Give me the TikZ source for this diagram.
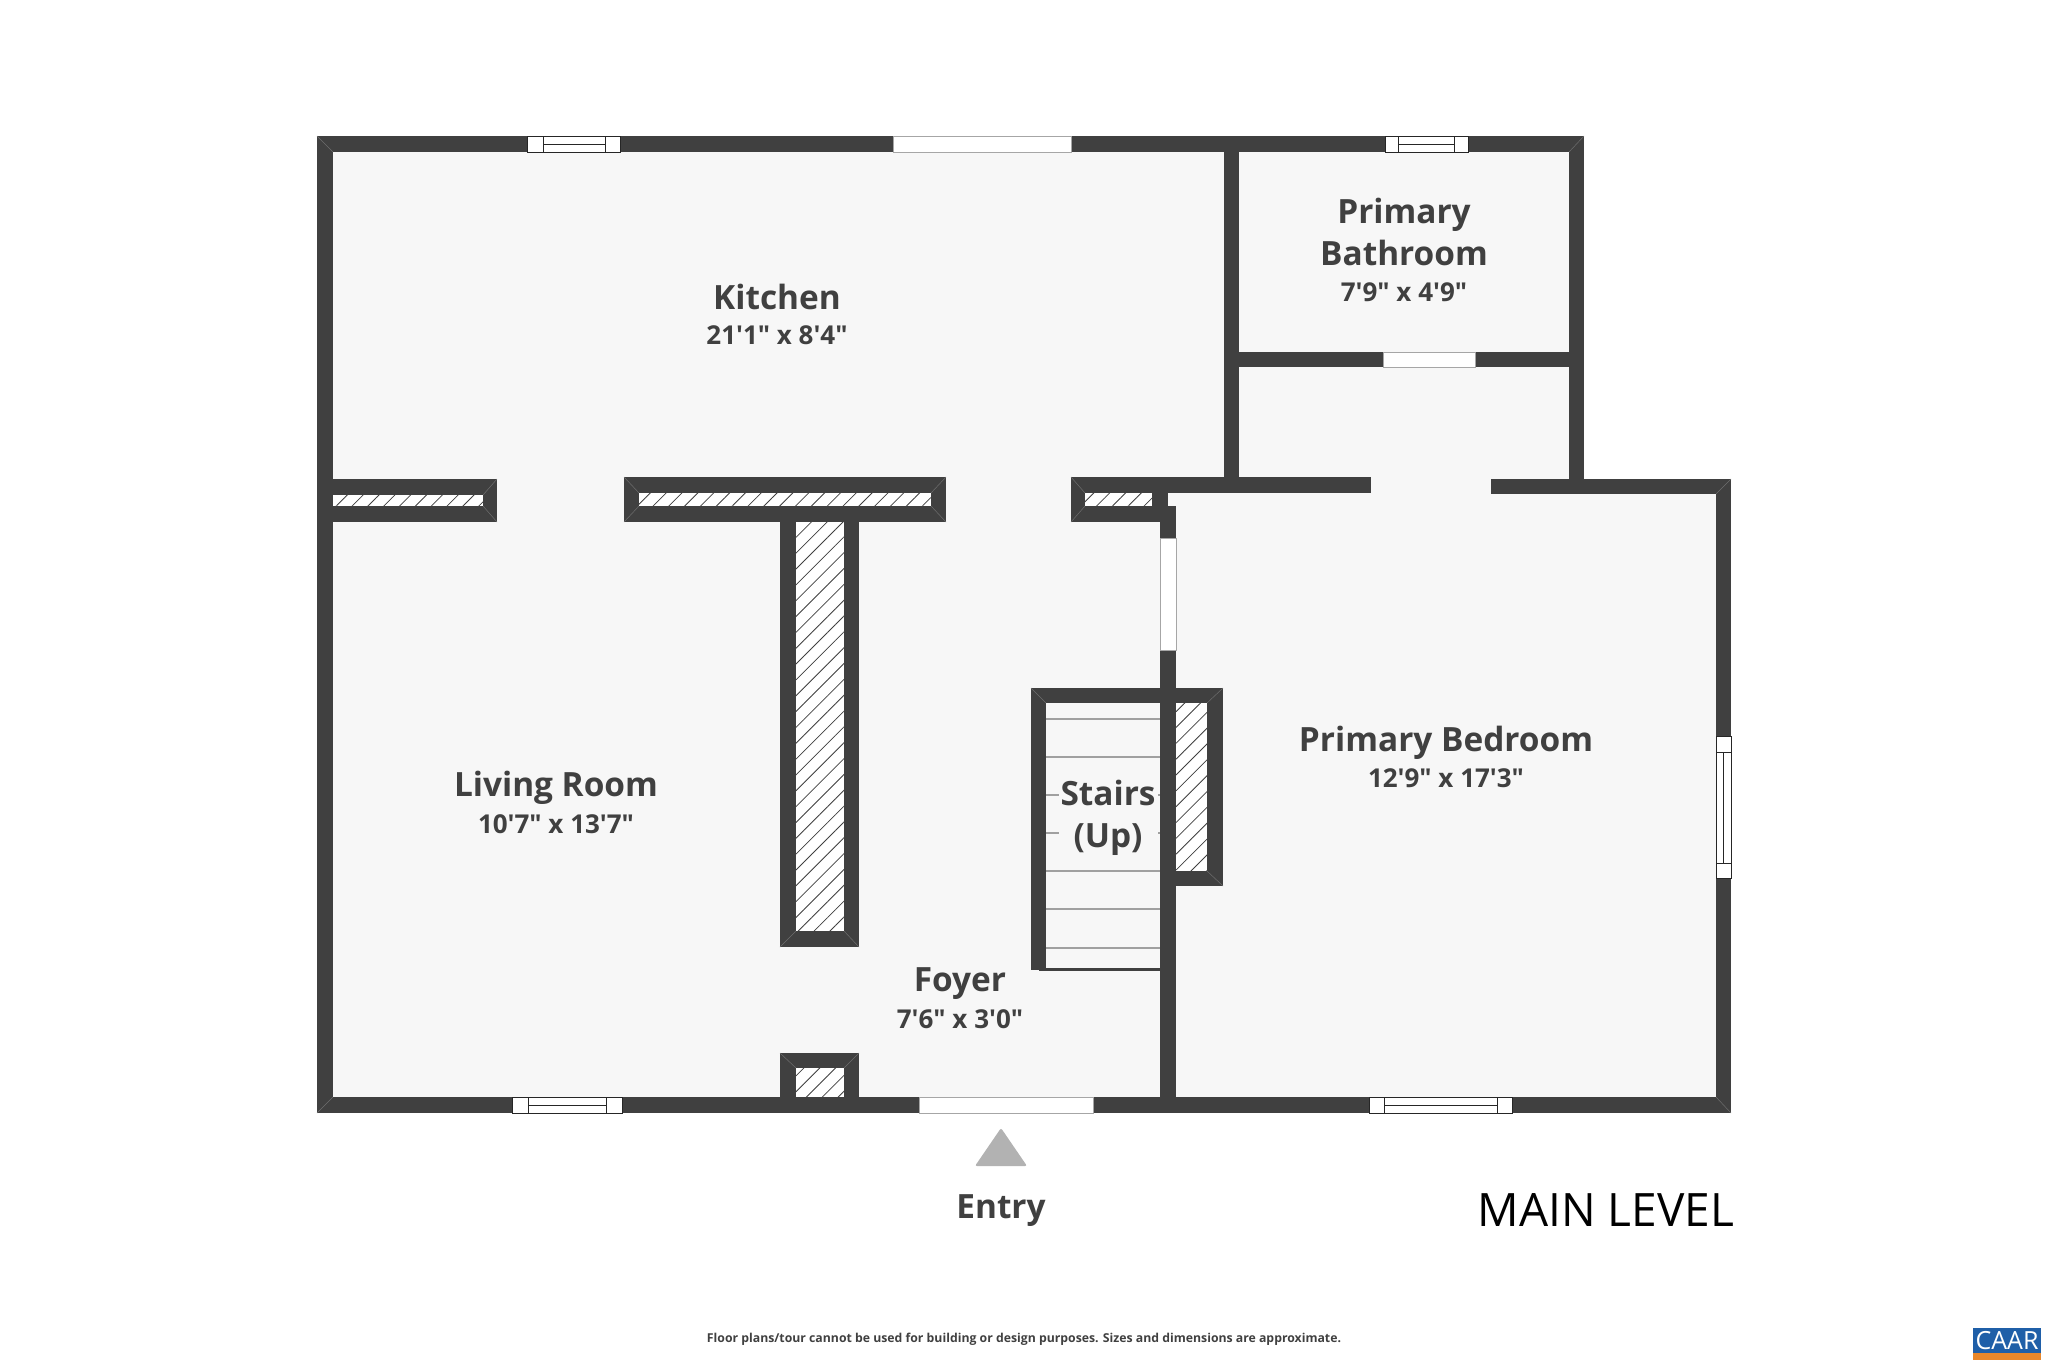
\documentclass[tikz,border=0pt]{standalone}
\usepackage{fontspec}
\newfontfamily\planfont{Open Sans}
\usetikzlibrary{patterns.meta}

\definecolor{wallcol}{HTML}{404040}
\definecolor{floorcol}{HTML}{F7F7F7}
\definecolor{treadcol}{HTML}{A0A0A0}
\definecolor{mitercol}{HTML}{6E6E6E}
\definecolor{logoblue}{HTML}{1F5FA8}
\definecolor{logoorange}{HTML}{E8872B}

\tikzset{
	wall/.style={fill=wallcol, draw=none},
	hatched/.style={fill=white, postaction={pattern={Lines[angle=45,distance=5.6pt,line width=0.4pt]}, pattern color=wallcol}},
	opening/.style={fill=white, draw=gray!70, line width=0.5pt},
	pane/.style={fill=white, draw=black!85, line width=0.45pt},
	roomname/.style={font=\planfont\bfseries\fontsize{16.7}{21}\selectfont, text=wallcol, align=center},
	roomsize/.style={font=\planfont\bfseries\fontsize{13}{16}\selectfont, text=wallcol, align=center},
}

\begin{document}
\begin{tikzpicture}[x=0.5pt, y=-0.5pt]
	\useasboundingbox (0,0) rectangle (2048,1365);

	% floor
	\fill [floorcol] (317,136) -- (1584,136) -- (1584,479) -- (1731,479) -- (1731,1113) -- (317,1113) -- cycle;

	% hatched fill between the wall faces
	\path [hatched] (333,495) rectangle (483,506);
	\path [hatched] (639,493) rectangle (931,506);
	\path [hatched] (1085,493) rectangle (1152,506);
	\path [hatched] (796,522) rectangle (844,931);
	\path [hatched] (796,1068) rectangle (844,1097);
	\path [hatched] (1176,703) rectangle (1207,871);

	% outer walls
	\fill [wall] (317,136) rectangle (1584,152);
	\fill [wall] (317,136) rectangle (333,1113);
	\fill [wall] (317,1097) rectangle (1731,1113);
	\fill [wall] (1716,479) rectangle (1731,1113);
	\fill [wall] (1569,136) rectangle (1584,494);

	% kitchen / living room partition
	\fill [wall] (333,479) rectangle (497,495);
	\fill [wall] (333,506) rectangle (497,522);
	\fill [wall] (483,479) rectangle (497,522);
	\fill [wall] (624,477) rectangle (946,493);
	\fill [wall] (624,506) rectangle (946,522);
	\fill [wall] (624,477) rectangle (639,522);
	\fill [wall] (931,477) rectangle (946,522);
	\fill [wall] (1071,477) rectangle (1371,493);
	\fill [wall] (1071,506) rectangle (1168,522);
	\fill [wall] (1071,477) rectangle (1085,522);
	\fill [wall] (1152,477) rectangle (1168,522);
	\fill [wall] (1491,479) rectangle (1731,494);

	% chimney stem and the block on the front wall
	\fill [wall] (780,522) rectangle (796,947);
	\fill [wall] (844,522) rectangle (859,947);
	\fill [wall] (780,931) rectangle (859,947);
	\fill [wall] (780,1053) rectangle (859,1068);
	\fill [wall] (780,1053) rectangle (796,1113);
	\fill [wall] (844,1053) rectangle (859,1113);

	% bathroom walls
	\fill [wall] (1224,136) rectangle (1239,493);
	\fill [wall] (1224,352) rectangle (1584,367);

	% bedroom wall and stairs
	\fill [wall] (1160,506) rectangle (1176,1113);
	\fill [wall] (1031,688) rectangle (1223,703);
	\fill [wall] (1031,688) rectangle (1046,970);
	\fill [wall] (1207,688) rectangle (1223,886);
	\fill [wall] (1176,871) rectangle (1223,886);
	\fill [wall] (1039,968) rectangle (1160,971);
	\foreach \y in {719,757,795,833,871,909,948}
		\draw [treadcol, line width=0.6pt] (1046,\y) -- (1160,\y);

	% corner joints
	\foreach \xa/\ya/\xb/\yb in {317/136/333/152, 1584/136/1569/152, 317/1113/333/1097, 1731/1113/1716/1097,
		1731/479/1716/494, 1031/688/1046/703, 1223/688/1207/703, 1223/886/1207/871,
		780/1053/796/1068, 859/1053/844/1068, 780/947/796/931, 859/947/844/931,
		497/479/483/495, 497/522/483/506, 624/477/639/493, 624/522/639/506,
		946/477/931/493, 946/522/931/506, 1071/477/1085/493, 1071/522/1085/506}
		\draw [mitercol, line width=0.25pt] (\xa,\ya) -- (\xb,\yb);

	% door openings
	\draw [opening] (893,136) rectangle (1071,152);
	\draw [opening] (1383,352) rectangle (1475,367);
	\draw [opening] (1160,538) rectangle (1176,650);
	\draw [opening] (919,1097) rectangle (1093,1113);

	% windows
	\draw [pane] (527,136) rectangle (620,152);
	\draw [pane] (543,136) rectangle (605,152);
	\draw [pane] (543,144) -- (605,144);

	\draw [pane] (1385,136) rectangle (1468,152);
	\draw [pane] (1398,136) rectangle (1454,152);
	\draw [pane] (1398,144) -- (1454,144);

	\draw [pane] (512,1097) rectangle (622,1113);
	\draw [pane] (528,1097) rectangle (606,1113);
	\draw [pane] (528,1105) -- (606,1105);

	\draw [pane] (1369,1097) rectangle (1512,1113);
	\draw [pane] (1384,1097) rectangle (1497,1113);
	\draw [pane] (1384,1105) -- (1497,1105);

	\draw [pane] (1716,736) rectangle (1731,878);
	\draw [pane] (1716,752) rectangle (1731,863);
	\draw [pane] (1723,752) -- (1723,863);

	% entry mark
	\fill [gray!60, rounded corners=1pt] (1001,1128) -- (1027,1166) -- (975,1166) -- cycle;

	% labels
	\node [roomname] at (777,297) {Kitchen};
	\node [roomsize] at (777,335) {21'1" x 8'4"};
	\node [roomname] at (1404,232) {Primary\\Bathroom};
	\node [roomsize] at (1404,292) {7'9" x 4'9"};
	\node [roomname] at (556,788) {Living Room};
	\node [roomsize] at (556,824) {10'7" x 13'7"};
	\node [roomname] at (1446,743) {Primary Bedroom};
	\node [roomsize] at (1446,778) {12'9" x 17'3"};
	\node [roomname] at (960,984) {Foyer};
	\node [roomsize] at (960,1019) {7'6" x 3'0"};
	\node [roomname, fill=floorcol, inner sep=1pt] at (1108,818) {Stairs\\(Up)};
	\node [roomname] at (1001,1211) {Entry};
	\node [font=\planfont\fontsize{23}{27}\selectfont, text=black] at (1606,1210) {MAIN LEVEL};
	\node [font=\planfont\bfseries\fontsize{6.13}{8}\selectfont, text=wallcol] at (1024,1339) {Floor plans/tour cannot be used for building or design purposes. Sizes and dimensions are approximate.};

	% badge
	\fill [logoblue] (1973,1328) rectangle (2041,1353);
	\fill [logoorange] (1973,1353) rectangle (2041,1360);
	\node [font=\planfont\fontsize{12.5}{13}\selectfont, text=white] at (2007,1341) {CAAR};
\end{tikzpicture}
\end{document}
